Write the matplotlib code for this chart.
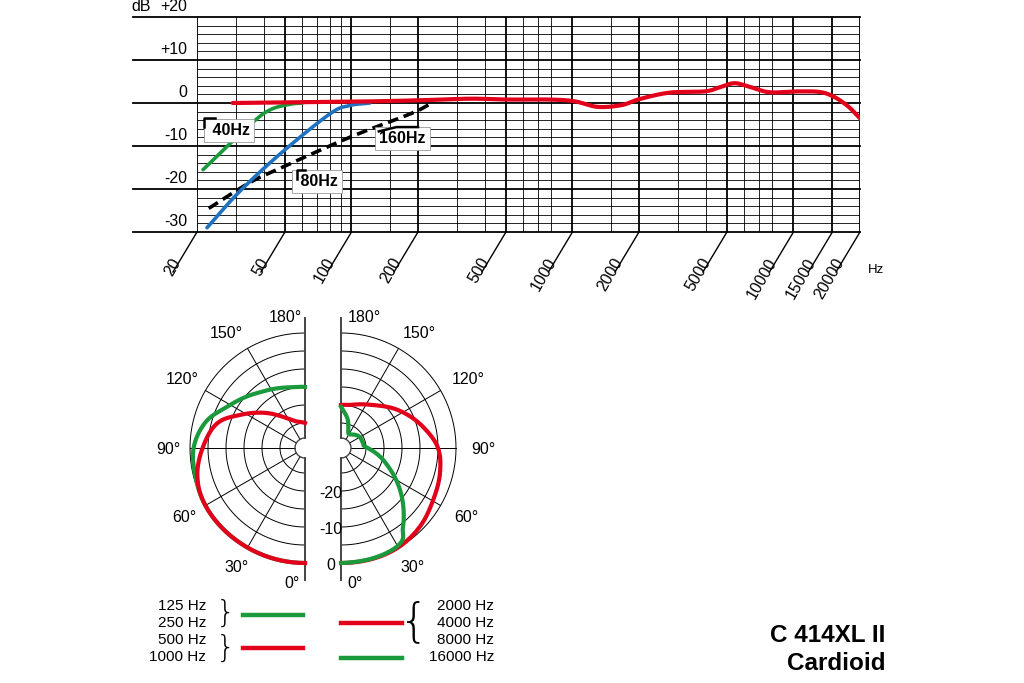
import numpy as np
import matplotlib.pyplot as plt

plt.rcParams['font.family'] = ['Liberation Sans', 'DejaVu Sans']

RED = '#e2001a'
GREEN = '#1a9a3c'
BLUE = '#1f72c0'

# ---- frequency response data (Hz, dB) ----
red_f = [29, 98, 194, 343, 494, 788, 1020, 1298, 1665, 2010, 2740, 3970, 4600, 5400, 6300, 7780, 10700, 13900, 17300, 20800]
red_db = [0, 0.3, 0.6, 1.0, 0.8, 0.8, 0.4, -0.9, -0.5, 0.9, 2.4, 2.7, 3.6, 4.6, 3.8, 2.5, 2.7, 2.3, -0.4, -4.5]
green_f = [21.3, 34.7, 42.8, 52.6, 60]
green_db = [-15.5, -5.1, -1.6, -0.3, 0]
blue_f = [22.2, 31.3, 48.4, 80, 98, 121]
blue_db = [-29, -20.5, -11.5, -2.5, -0.6, 0]
black_f = [22.6, 34.7, 48.4, 98, 185, 226]
black_db = [-24.5, -18.5, -15, -8, -2.5, -0.3]

major_f = [20, 50, 100, 200, 500, 1000, 2000, 5000, 10000, 15000, 20000]
minor_f = [30, 40, 60, 70, 80, 90, 150, 300, 400, 600, 700, 800, 1500, 3000, 4000, 6000, 7000, 8000]
db_labels = ['+10', '0', '-10', '-20', '-30']
db_vals = [10, 0, -10, -20, -30]

# ---- polar data (angle deg, dB) ----
ang_l_red = [0, 30, 60, 75, 90, 106, 117, 130, 145, 160, 180]
db_l_red = [0, 0, 0, -1, -3.5, -6.7, -11.7, -16.7, -21.4, -24, -25]
ang_l_green = [0, 30, 60, 75, 90, 105, 118, 135, 147, 165, 180]
db_l_green = [0, 0, 0, -0.5, -1, -3.5, -7.5, -11, -12.8, -14.5, -15]
ang_r_red = [0, 27, 45, 60, 76, 90, 104, 124, 143, 165, 180]
db_r_red = [0, 0, -1, -2.5, -3.6, -5, -8.3, -13, -17, -19.5, -20]
ang_r_green = [0, 30, 38, 50, 64, 74, 92, 103, 123, 150, 160, 166, 177, 180]
db_r_green = [0, -0.5, -4, -9.7, -16, -19.7, -25, -25.7, -26, -27.5, -26, -24, -21.4, -20.5]


def smooth(x, y, n=20):
    # Catmull-Rom curve through the read points, for drawing only
    x = np.asarray(x, float)
    y = np.asarray(y, float)
    px = np.concatenate([[2 * x[0] - x[1]], x, [2 * x[-1] - x[-2]]])
    py = np.concatenate([[2 * y[0] - y[1]], y, [2 * y[-1] - y[-2]]])
    ox, oy = [], []
    s = np.linspace(0, 1, n, endpoint=False)
    for i in range(1, len(px) - 2):
        for p, o in ((px, ox), (py, oy)):
            p0, p1, p2, p3 = p[i - 1:i + 3]
            o.extend(0.5 * (2 * p1 + (-p0 + p2) * s + (2 * p0 - 5 * p1 + 4 * p2 - p3) * s ** 2
                            + (-p0 + 3 * p1 - 3 * p2 + p3) * s ** 3))
    ox.append(x[-1])
    oy.append(y[-1])
    return np.array(ox), np.array(oy)


def smooth_log(f, d):
    lx, ly = smooth(np.log10(f), d)
    return 10 ** lx, ly


fig = plt.figure(figsize=(10.24, 6.83), dpi=100)
W, H = 1024, 683


def fig_rect(x0, y0, x1, y1):
    return [x0 / W, 1 - y1 / H, (x1 - x0) / W, (y1 - y0) / H]


# ============ frequency response ============
ax = fig.add_axes(fig_rect(197, 17, 860, 232))
ax.set_xscale('log')
ax.set_xlim(20, 20000)
ax.set_ylim(-30, 20)
ax.axis('off')
x_left = 20 * 10 ** (-64 / 221)

for d in range(-30, 21, 2):
    if d % 10:
        ax.plot([20, 20000], [d, d], color='black', lw=0.6)
for d in range(-30, 21, 10):
    ax.plot([x_left, 20000], [d, d], color='black', lw=1.3, clip_on=False)
for f in minor_f:
    ax.plot([f, f], [-30, 20], color='black', lw=0.6)
for f in major_f:
    ax.plot([f, f], [-30, 20], color='black', lw=1.3)
    x_end = f * 10 ** (-24 / 221)
    ax.plot([f, x_end], [-30, -30 - 40 / 4.3], color='black', lw=1.0, clip_on=False)
    ax.text(f * 10 ** (-20 / 221), -30 - 27 / 4.3, str(f), rotation=60, rotation_mode='anchor',
            ha='right', va='center', fontsize=11.5)
ax.text(20000 * 10 ** (8 / 221), -30 - 38 / 4.3, 'Hz', fontsize=9.5, ha='left', va='center')
for lab, v in zip(db_labels, db_vals):
    ax.text(20 * 10 ** (-10 / 221), v + 0.8, lab, ha='right', va='bottom', fontsize=11.5)
ax.text(20 * 10 ** (-10 / 221), 20 + 0.6, '+20', ha='right', va='bottom', fontsize=11.5)
ax.text(20 * 10 ** (-66 / 221), 20 + 0.6, 'dB', ha='left', va='bottom', fontsize=11.5)

ax.plot(*smooth_log(black_f, black_db), color='black', lw=2.6, ls=(0, (3, 1.6)), zorder=3)
ax.plot(*smooth_log(blue_f, blue_db), color=BLUE, lw=2.6, zorder=4, solid_capstyle='round')
ax.plot(*smooth_log(green_f, green_db), color=GREEN, lw=2.6, zorder=4, solid_capstyle='round')
ax.plot(*smooth_log(red_f, red_db), color=RED, lw=3.0, zorder=5, solid_capstyle='round')

box = dict(facecolor='white', edgecolor='#999999', lw=0.6, boxstyle='square,pad=0.25')
ax.text(28, -6.3, ' 40Hz', fontsize=11.5, fontweight='bold', ha='center', va='center', bbox=box, zorder=6)
ax.text(70, -18.3, ' 80Hz', fontsize=11.5, fontweight='bold', ha='center', va='center', bbox=box, zorder=6)
ax.text(170, -8.3, '160Hz', fontsize=11.5, fontweight='bold', ha='center', va='center', bbox=box, zorder=6)
# filter glyphs
ax.plot([21.6, 21.6, 24.2], [-5.6, -3.6, -3.6], color='black', lw=1.8, zorder=7)
ax.plot([56.5, 56.5, 61.5], [-17.6, -15.6, -15.6], color='black', lw=1.8, zorder=7)
ax.plot([133, 160, 200], [-6.6, -5.6, -5.6], color='black', lw=1.8, zorder=7)

# ============ polar ============
pax = fig.add_axes([0, 0, 1, 1])
pax.set_xlim(0, W)
pax.set_ylim(H, 0)
pax.axis('off')

CY = 448
R0 = 115
K = 3.6


def rad(db):
    return R0 + K * np.asarray(db, float)


for cx, side in [(305, -1), (341, 1)]:
    t = np.radians(np.linspace(0, 180, 200))
    for db in [0, -5, -10, -15, -20, -25]:
        r = rad(db)
        pax.plot(cx + side * r * np.sin(t), CY + r * np.cos(t), color='black', lw=0.7)
    for a in [30, 60, 90, 120, 150]:
        ta = np.radians(a)
        pax.plot([cx + side * 10 * np.sin(ta), cx + side * R0 * np.sin(ta)],
                 [CY + 10 * np.cos(ta), CY + R0 * np.cos(ta)], color='black', lw=0.7)
    pax.plot([cx, cx], [318, CY - 10], color='#444444', lw=1.4)
    pax.plot([cx, cx], [CY + 10, 580], color='#444444', lw=1.4)
    pax.plot(cx + side * 10 * np.sin(t), CY + 10 * np.cos(t), color='#444444', lw=1.0)


def polar_line(cx, side, ang, db, color, z):
    a, d = smooth(ang, db)
    t = np.radians(np.clip(a, 0, 180))
    r = rad(d)
    pax.plot(cx + side * r * np.sin(t), CY + r * np.cos(t), color=color, lw=3.0, zorder=z)


polar_line(305, -1, ang_l_green, db_l_green, GREEN, 4)
polar_line(305, -1, ang_l_red, db_l_red, RED, 5)
polar_line(341, 1, ang_r_red, db_r_red, RED, 4)
polar_line(341, 1, ang_r_green, db_r_green, GREEN, 5)

fs = 11.5
for lab, x, y in [('180°', 285, 317), ('150°', 226, 333), ('120°', 182, 380), ('90°', 168, 449),
                  ('60°', 184, 518), ('30°', 237, 568), ('0°', 292, 584),
                  ('180°', 364, 317), ('150°', 419, 333), ('120°', 468, 380), ('90°', 483, 449),
                  ('60°', 466, 518), ('30°', 413, 568), ('0°', 355, 584)]:
    pax.text(x, y, lab, ha='center', va='center', fontsize=fs)
for lab, y in [('-20', 493), ('-10', 530), ('0', 565)]:
    pax.text(331, y, lab, ha='center', va='center', fontsize=fs)

# legend
for lab, y in [('125 Hz', 606), ('250 Hz', 623), ('500 Hz', 640), ('1000 Hz', 657)]:
    pax.text(206, y, lab, ha='right', va='center', fontsize=11)
for lab, y in [('2000 Hz', 606), ('4000 Hz', 623), ('8000 Hz', 640), ('16000 Hz', 657)]:
    pax.text(494, y, lab, ha='right', va='center', fontsize=11)
pax.text(226, 613, '}', ha='center', va='center', fontsize=22, fontweight='light', family='DejaVu Sans')
pax.text(226, 648, '}', ha='center', va='center', fontsize=22, fontweight='light', family='DejaVu Sans')
pax.text(414, 622, '{', ha='center', va='center', fontsize=34, fontweight='light', family='DejaVu Sans')
pax.plot([243, 303], [615, 615], color=GREEN, lw=3.2)
pax.plot([243, 303], [648, 648], color=RED, lw=3.2)
pax.plot([341, 402], [623, 623], color=RED, lw=3.2)
pax.plot([341, 402], [658, 658], color=GREEN, lw=3.2)

pax.text(885, 636, 'C 414XL II', ha='right', va='center', fontsize=17.5, fontweight='bold')
pax.text(885, 663, 'Cardioid', ha='right', va='center', fontsize=17.5, fontweight='bold')

fig.savefig('out.png', dpi=100)
